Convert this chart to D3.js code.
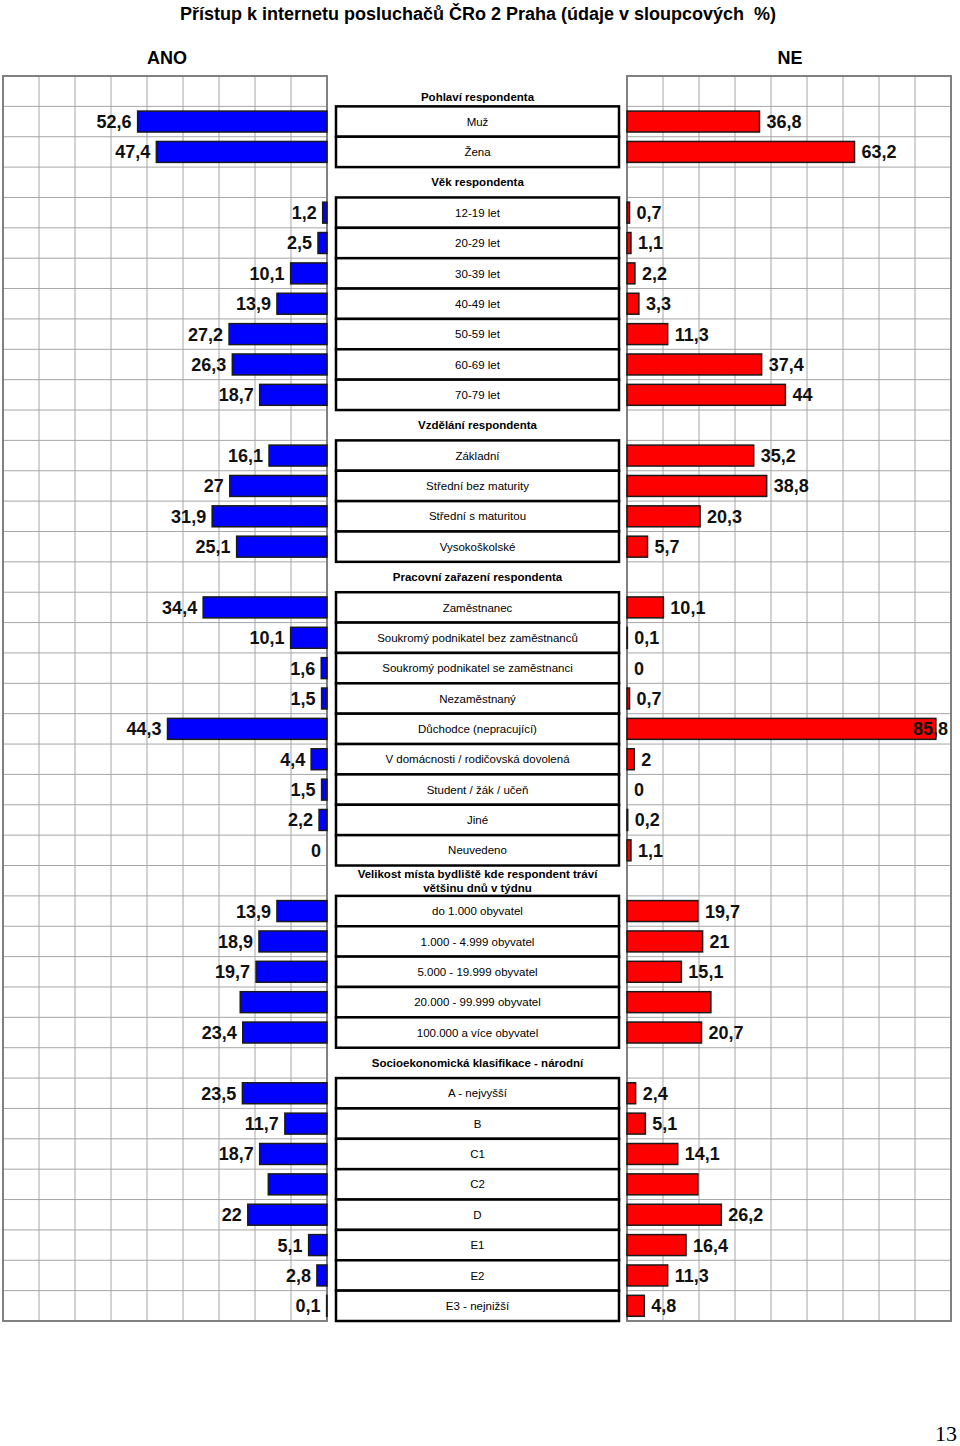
<!DOCTYPE html>
<html>
<head>
<meta charset="utf-8">
<script src="https://cdn.jsdelivr.net/npm/d3@7"></script>
<style>
  body { margin: 0; background: #fff; }
  svg { display: block; font-family: "Liberation Sans", Arial, sans-serif; }
</style>
</head>
<body>
<div id="chart"></div>
<script>
// řádky grafu (hlavičky skupin mají hodnotu null)
const rows = [
  "Pohlaví respondenta", "Muž", "Žena",
  "Věk respondenta", "12-19 let", "20-29 let", "30-39 let", "40-49 let", "50-59 let", "60-69 let", "70-79 let",
  "Vzdělání respondenta", "Základní", "Střední bez maturity", "Střední s maturitou", "Vysokoškolské",
  "Pracovní zařazení respondenta", "Zaměstnanec", "Soukromý podnikatel bez zaměstnanců",
  "Soukromý podnikatel se zaměstnanci", "Nezaměstnaný", "Důchodce (nepracující)",
  "V domácnosti / rodičovská dovolená", "Student / žák / učeň", "Jiné", "Neuvedeno",
  "Velikost místa bydliště kde respondent tráví|většinu dnů v týdnu",
  "do 1.000 obyvatel", "1.000 - 4.999 obyvatel", "5.000 - 19.999 obyvatel",
  "20.000 - 99.999 obyvatel", "100.000 a více obyvatel",
  "Socioekonomická klasifikace - národní", "A - nejvyšší", "B", "C1", "C2", "D", "E1", "E2", "E3 - nejnižší"
];

const ano = [
  null, 52.6, 47.4,
  null, 1.2, 2.5, 10.1, 13.9, 27.2, 26.3, 18.7,
  null, 16.1, 27, 31.9, 25.1,
  null, 34.4, 10.1, 1.6, 1.5, 44.3, 4.4, 1.5, 2.2, 0,
  null, 13.9, 18.9, 19.7, 24.1, 23.4,
  null, 23.5, 11.7, 18.7, 16.3, 22, 5.1, 2.8, 0.1
];

const ne = [
  null, 36.8, 63.2,
  null, 0.7, 1.1, 2.2, 3.3, 11.3, 37.4, 44,
  null, 35.2, 38.8, 20.3, 5.7,
  null, 10.1, 0.1, 0, 0.7, 85.8, 2, 0, 0.2, 1.1,
  null, 19.7, 21, 15.1, 23.3, 20.7,
  null, 2.4, 5.1, 14.1, 19.7, 26.2, 16.4, 11.3, 4.8
];

// řádky, kde v originále chybí popisek hodnoty
const unlabeled = ["20.000 - 99.999 obyvatel", "C2"];

const gridTicks = d3.range(0, 91, 10);

const width = 960, height = 1446;

const svg = d3.select("#chart").append("svg")
  .attr("width", width)
  .attr("height", height);

const y = d3.scaleBand()
  .domain(d3.range(rows.length))
  .range([76, 1321]);

const xL = d3.scaleLinear().domain([0, 90]).range([327, 3]);
const xR = d3.scaleLinear().domain([0, 90]).range([627, 951]);

const barH = y.bandwidth() * 0.69;
const fmt = v => String(v).replace(".", ",");

// titulek
svg.append("text")
  .attr("x", 478).attr("y", 20)
  .attr("text-anchor", "middle")
  .attr("font-size", 18).attr("font-weight", "bold")
  .style("white-space", "pre")
  .text("Přístup k internetu posluchačů ČRo 2 Praha (údaje v sloupcových  %)");

svg.append("text")
  .attr("x", 167).attr("y", 64)
  .attr("text-anchor", "middle")
  .attr("font-size", 18).attr("font-weight", "bold")
  .text("ANO");

svg.append("text")
  .attr("x", 790).attr("y", 64)
  .attr("text-anchor", "middle")
  .attr("font-size", 18).attr("font-weight", "bold")
  .text("NE");

function drawPanel(x, values, side) {
  const g = svg.append("g");
  const [x0, x1] = d3.extent(x.range());

  // mřížka
  g.selectAll("line.v")
    .data(gridTicks)
    .join("line")
      .attr("x1", d => x(d)).attr("x2", d => x(d))
      .attr("y1", y.range()[0]).attr("y2", y.range()[1])
      .attr("stroke", "#a6a6a6").attr("stroke-width", 1);

  g.selectAll("line.h")
    .data(d3.range(rows.length + 1))
    .join("line")
      .attr("x1", x0).attr("x2", x1)
      .attr("y1", d => y.range()[0] + d * y.step())
      .attr("y2", d => y.range()[0] + d * y.step())
      .attr("stroke", "#a6a6a6").attr("stroke-width", 1);

  g.append("rect")
    .attr("x", x0).attr("y", y.range()[0])
    .attr("width", x1 - x0).attr("height", y.range()[1] - y.range()[0])
    .attr("fill", "none").attr("stroke", "#808080").attr("stroke-width", 2);

  const data = values.map((v, i) => ({ v, i })).filter(d => d.v !== null);

  // sloupce
  g.selectAll("rect.bar")
    .data(data.filter(d => d.v > 0))
    .join("rect")
      .attr("class", "bar")
      .attr("x", d => Math.min(x(0), x(d.v)))
      .attr("width", d => Math.abs(x(d.v) - x(0)))
      .attr("y", d => y(d.i) + (y.bandwidth() - barH) / 2)
      .attr("height", barH)
      .attr("fill", side === "left" ? "#0000ff" : "#ff0000")
      .attr("stroke", "#1a1a1a").attr("stroke-width", 1.5);

  // popisky hodnot
  g.selectAll("text.val")
    .data(data.filter(d => !unlabeled.includes(rows[d.i])))
    .join("text")
      .attr("class", "val")
      .attr("y", d => y(d.i) + y.bandwidth() / 2)
      .attr("dy", "0.36em")
      .attr("font-size", 18).attr("font-weight", "bold")
      .attr("fill", "#111")
      .attr("text-anchor", side === "left" ? "end" : "start")
      .text(d => fmt(d.v))
      .each(function (d) {
        const t = d3.select(this);
        if (side === "left") {
          t.attr("x", x(d.v) - 6);
        } else {
          const w = this.getComputedTextLength();
          t.attr("x", Math.min(x(d.v) + 7, x1 - w - 3));
        }
      });
}

drawPanel(xL, ano, "left");
drawPanel(xR, ne, "right");

// prostřední sloupec s názvy kategorií
const mid = svg.append("g");
const boxX0 = 336, boxX1 = 619;

const idx = d3.range(rows.length);

mid.selectAll("rect")
  .data(idx.filter(i => ano[i] !== null))
  .join("rect")
    .attr("x", boxX0).attr("y", i => y(i))
    .attr("width", boxX1 - boxX0).attr("height", y.bandwidth())
    .attr("fill", "#fff").attr("stroke", "#000").attr("stroke-width", 2.5);

mid.selectAll("text.cat")
  .data(idx.filter(i => ano[i] !== null))
  .join("text")
    .attr("class", "cat")
    .attr("x", (boxX0 + boxX1) / 2)
    .attr("y", i => y(i) + y.bandwidth() / 2)
    .attr("dy", "0.36em")
    .attr("text-anchor", "middle")
    .attr("font-size", 11.5)
    .text(i => rows[i]);

mid.selectAll("text.head")
  .data(idx.filter(i => ano[i] === null))
  .join("text")
    .attr("class", "head")
    .attr("x", (boxX0 + boxX1) / 2)
    // první hlavička sedí v originále níž, těsně nad rámečkem
    .attr("y", i => y(i) + y.bandwidth() / 2 + (i === 0 ? 6 : 0))
    .attr("text-anchor", "middle")
    .attr("font-size", 11.5).attr("font-weight", "bold")
    .each(function (i) {
      const lines = rows[i].split("|");
      const t = d3.select(this);
      lines.forEach((s, k) => {
        t.append("tspan")
          .attr("x", (boxX0 + boxX1) / 2)
          .attr("dy", k === 0 ? (0.36 - (lines.length - 1) * 0.6) + "em" : "1.25em")
          .text(s);
      });
    });

// číslo stránky
svg.append("text")
  .attr("x", 957).attr("y", 1441)
  .attr("text-anchor", "end")
  .attr("font-family", "'Liberation Serif', 'Times New Roman', serif")
  .attr("font-size", 22)
  .text("13");
</script>
</body>
</html>
